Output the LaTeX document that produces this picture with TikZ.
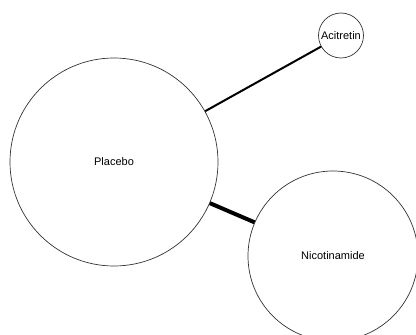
\documentclass[tikz,border=0pt]{standalone}
\usepackage{fontspec}
\setmainfont{Liberation Sans}
\begin{document}
\begin{tikzpicture}[x=1pt,y=1pt,
  arm/.style={circle,draw=black!80,line width=0.7pt,inner sep=0pt,font=\fontsize{11}{13}\selectfont},
  link/.style={draw=black,line cap=butt}]
\useasboundingbox (0,0) rectangle (416,335);
\node[arm,minimum size=208pt] (pl) at (114,173) {Placebo};
\node[arm,minimum size=45pt] (ac) at (341,299.5) {Acitretin};
\node[arm,minimum size=170pt] (ni) at (333,79) {Nicotinamide};
\draw[link,line width=2pt] (pl) -- (ac);
\draw[link,line width=4pt] (pl) -- (ni);
\end{tikzpicture}
\end{document}
